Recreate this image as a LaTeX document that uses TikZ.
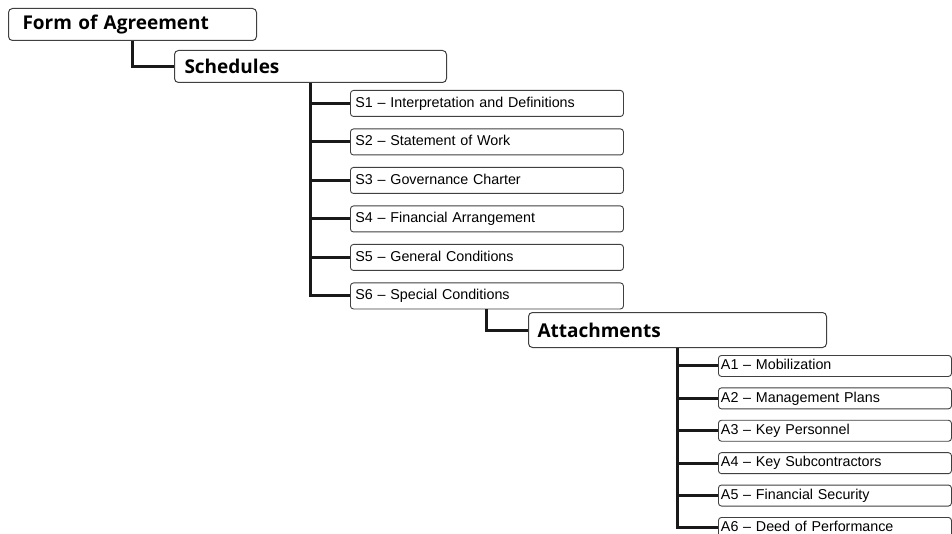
\documentclass[tikz,border=0pt]{standalone}
\usepackage{fontspec}
\setmainfont{Liberation Sans}
\newfontfamily\headfont{Open Sans}
\usetikzlibrary{positioning}
\tikzset{head/.style={draw=black!75,line width=1pt,rounded corners=4pt,fill=white,minimum height=32pt,inner xsep=10pt,align=left,font=\headfont\bfseries\fontsize{19}{22}\selectfont,anchor=north west},
         sitem/.style={draw=black!75,line width=0.9pt,rounded corners=3pt,fill=white,text height=10.3pt,text depth=3pt,inner ysep=6.35pt,text width=263pt,inner xsep=5pt,align=left,font=\fontsize{14.3}{16}\selectfont},
         aitem/.style={sitem,inner ysep=3.85pt,text width=228pt,inner xsep=2.5pt},
         link/.style={line width=3pt,black!90}
}
\begin{document}
\begin{tikzpicture}[x=1pt,y=-1pt]
  \useasboundingbox (0,0) rectangle (952,534);
  \node[head,text width=220pt,inner xsep=14pt] (form) at (8,8) {Form of Agreement};
  \node[head,text width=252pt] (sched) at (174,50) {Schedules};
  \node[sitem,anchor=north west] (s1) at (350,90) {S1 – Interpretation and Definitions};
  \node[sitem,below=11.6pt of s1] (s2) {S2 – Statement of Work};
  \node[sitem,below=11.6pt of s2] (s3) {S3 – Governance Charter};
  \node[sitem,below=11.6pt of s3] (s4) {S4 – Financial Arrangement};
  \node[sitem,below=11.6pt of s4] (s5) {S5 – General Conditions};
  \node[sitem,below=11.6pt of s5] (s6) {S6 – Special Conditions};
  \node[head,text width=280pt,inner xsep=9pt,minimum height=35pt] (att) at (528,312) {Attachments};
  \node[aitem,anchor=north west] (a1) at (718,355) {A1 – Mobilization};
  \node[aitem,below=10.5pt of a1] (a2) {A2 – Management Plans};
  \node[aitem,below=10.5pt of a2] (a3) {A3 – Key Personnel};
  \node[aitem,below=10.5pt of a3] (a4) {A4 – Key Subcontractors};
  \node[aitem,below=10.5pt of a4] (a5) {A5 – Financial Security};
  \node[aitem,below=10.5pt of a5] (a6) {A6 – Deed of Performance};
  \draw[link] (form.south) |- (sched.west);
  \draw[link] (sched.south) |- (s6.west);
  \draw[link] (sched.south |- s1.west) -- (s1.west);
  \draw[link] (sched.south |- s2.west) -- (s2.west);
  \draw[link] (sched.south |- s3.west) -- (s3.west);
  \draw[link] (sched.south |- s4.west) -- (s4.west);
  \draw[link] (sched.south |- s5.west) -- (s5.west);
  \draw[link] (s6.south) |- (att.west);
  \draw[link] (att.south) |- (a6.west);
  \draw[link] (att.south |- a1.west) -- (a1.west);
  \draw[link] (att.south |- a2.west) -- (a2.west);
  \draw[link] (att.south |- a3.west) -- (a3.west);
  \draw[link] (att.south |- a4.west) -- (a4.west);
  \draw[link] (att.south |- a5.west) -- (a5.west);
\end{tikzpicture}
\end{document}
